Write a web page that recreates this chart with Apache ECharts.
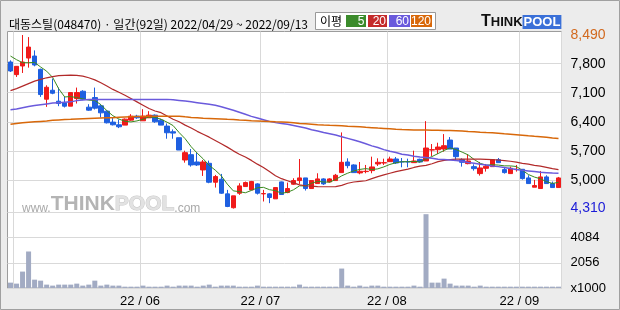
<!DOCTYPE html>
<html><head><meta charset="utf-8">
<script src="https://cdn.jsdelivr.net/npm/echarts@6/dist/echarts.min.js"></script>
<style>html,body{margin:0;padding:0;background:#ececec}#c{width:620px;height:310px}</style>
</head><body><div id="c"></div>
<script>
const dates = [
'2022-04-29',
'2022-05-02','2022-05-03','2022-05-04','2022-05-06','2022-05-09','2022-05-10','2022-05-11','2022-05-12','2022-05-13','2022-05-16','2022-05-17','2022-05-18','2022-05-19','2022-05-20','2022-05-23','2022-05-24','2022-05-25','2022-05-26','2022-05-27','2022-05-30','2022-05-31',
'2022-06-02','2022-06-03','2022-06-07','2022-06-08','2022-06-09','2022-06-10','2022-06-13','2022-06-14','2022-06-15','2022-06-16','2022-06-17','2022-06-20','2022-06-21','2022-06-22','2022-06-23','2022-06-24','2022-06-27','2022-06-28','2022-06-29','2022-06-30',
'2022-07-01','2022-07-04','2022-07-05','2022-07-06','2022-07-07','2022-07-08','2022-07-11','2022-07-12','2022-07-13','2022-07-14','2022-07-15','2022-07-18','2022-07-19','2022-07-20','2022-07-21','2022-07-22','2022-07-25','2022-07-26','2022-07-27','2022-07-28','2022-07-29',
'2022-08-01','2022-08-02','2022-08-03','2022-08-04','2022-08-05','2022-08-08','2022-08-09','2022-08-10','2022-08-11','2022-08-12','2022-08-16','2022-08-17','2022-08-18','2022-08-19','2022-08-22','2022-08-23','2022-08-24','2022-08-25','2022-08-26','2022-08-29','2022-08-30','2022-08-31',
'2022-09-01','2022-09-02','2022-09-05','2022-09-06','2022-09-07','2022-09-08','2022-09-13'];

const openP = [7840,7536,7744,7936,7984,7664,6944,7160,6896,6856,6776,6960,7136,6752,6984,6784,6656,6392,6328,6320,6440,6536,6424,6496,6560,6440,6296,6160,6016,5480,5608,5432,5240,5400,4944,5016,4664,4330,4680,4840,4760,4904,4664,4664,4544,4952,4696,4896,4984,5048,4792,4912,5024,4952,4984,5176,5432,5360,5168,5200,5224,5384,5408,5440,5504,5440,5440,5416,5496,5456,5720,5728,5744,5960,5768,5488,5392,5320,5152,5280,5320,5488,5248,5152,5248,5256,5048,4824,4792,5072,4912,4816];
const closeP = [7624,7736,7840,8200,7768,7056,7232,7088,6840,6776,7104,7104,6944,6680,6728,6616,6376,6328,6280,6464,6536,6496,6536,6560,6400,6320,6136,6128,5720,5656,5360,5360,5432,4944,5080,4680,4360,4616,4856,4936,4960,4680,4672,4576,4816,4648,4792,4984,5048,4792,4984,5024,4904,5024,5112,5424,5344,5176,5208,5208,5312,5424,5416,5504,5408,5432,5432,5456,5432,5768,5728,5792,5824,5744,5560,5424,5456,5272,5288,5328,5488,5416,5176,5280,5256,5032,4912,4864,5072,4912,4816,5048];
const lowP = [7600,7480,7576,7704,7736,7000,6760,7064,6776,6744,6776,6840,6920,6664,6696,6504,6360,6312,6248,6320,6424,6472,6424,6496,6376,6320,5992,5992,5720,5416,5320,5336,5096,4920,4816,4664,4344,4310,4640,4840,4760,4648,4480,4440,4544,4648,4680,4880,4904,4744,4792,4912,4880,4936,4984,5176,5280,5176,5136,5160,5160,5336,5360,5440,5384,5304,5304,5416,5416,5456,5576,5624,5680,5744,5480,5320,5376,5224,5104,5200,5320,5416,5152,5152,5200,5008,4912,4824,4792,4912,4816,4816];
const highP = [7880,7744,8490,8440,8120,7680,7280,7440,7224,7000,7104,7224,7160,6824,7224,6824,6680,6496,6456,6480,6584,6568,6704,6656,6576,6472,6360,6216,6016,5704,5744,5656,5480,5464,5120,5144,4760,4616,4920,4960,4976,4920,4760,4680,4816,4960,4936,5040,5504,5048,4984,5160,5040,5040,5144,6144,5520,5376,5432,5360,5560,5520,5512,5560,5552,5528,5512,5704,5512,6416,5864,5896,6104,6032,5768,5520,5624,5376,5432,5384,5488,5528,5312,5320,5360,5256,5112,5000,5216,5112,4960,5072];
const volume = [460,380,1350,2970,700,620,300,220,300,300,300,380,220,300,620,220,300,220,220,135,135,135,220,135,135,135,220,135,220,220,220,135,220,300,135,220,220,220,135,135,135,220,135,135,135,135,135,135,300,135,135,135,135,135,135,1595,220,135,220,135,220,220,135,135,135,135,135,220,135,5976,460,460,784,380,220,220,220,135,220,135,135,135,135,135,135,135,135,135,135,135,135,135];
const ma5 = [7984,7896,7824,7824,7830,7720,7619,7469,7197,6998,7008,6982,6954,6922,6912,6814,6669,6546,6466,6413,6397,6421,6462,6518,6506,6462,6390,6309,6141,5992,5800,5645,5506,5350,5235,5099,4899,4736,4718,4690,4746,4810,4821,4765,4741,4678,4701,4763,4858,4853,4920,4966,4950,4946,5010,5098,5162,5216,5253,5272,5250,5266,5314,5373,5413,5437,5438,5446,5432,5504,5563,5635,5709,5771,5730,5669,5602,5491,5400,5354,5366,5358,5339,5338,5323,5232,5131,5069,5027,4958,4915,4942];
const ma20 = [7150,7200,7260,7320,7380,7420,7460,7490,7510,7520,7525,7520,7500,7460,7410,7340,7260,7180,7110,7040,6960,6880,6800,6720,6660,6620,6540,6460,6400,6320,6250,6170,6100,6030,5950,5870,5790,5700,5620,5550,5470,5380,5300,5200,5100,5030,4980,4930,4880,4860,4850,4840,4835,4835,4840,4870,4920,4950,4965,4980,5030,5080,5120,5160,5200,5230,5260,5300,5330,5350,5390,5440,5470,5490,5500,5500,5500,5500,5500,5495,5490,5480,5465,5450,5430,5400,5380,5350,5330,5300,5270,5250];
const ma60 = [6690,6710,6740,6770,6790,6810,6830,6850,6860,6870,6880,6910,6925,6935,6940,6940,6940,6940,6940,6940,6940,6940,6940,6940,6940,6940,6940,6930,6915,6900,6880,6860,6840,6820,6800,6760,6720,6680,6630,6580,6530,6490,6450,6410,6380,6360,6340,6310,6280,6250,6210,6180,6140,6110,6080,6040,6000,5960,5920,5870,5820,5780,5730,5690,5660,5620,5600,5570,5550,5540,5520,5500,5490,5480,5465,5450,5420,5400,5380,5360,5336,5320,5300,5275,5250,5230,5215,5200,5185,5175,5165,5160];
const ma120 = [6340,6360,6375,6390,6400,6410,6420,6435,6445,6455,6460,6470,6475,6480,6485,6490,6495,6500,6510,6515,6520,6525,6530,6535,6536,6536,6536,6536,6536,6520,6505,6495,6485,6480,6475,6470,6462,6456,6445,6435,6425,6420,6415,6410,6400,6395,6390,6375,6360,6350,6340,6330,6322,6316,6312,6304,6292,6285,6278,6266,6258,6248,6240,6232,6222,6215,6210,6205,6202,6200,6198,6195,6192,6188,6184,6176,6166,6158,6148,6140,6134,6124,6110,6100,6088,6075,6062,6050,6040,6025,6008,5995];

const priceTicks = [5000,5700,6400,7100,7800];
const priceHigh = 8490, priceLow = 4310;
const monthStarts = ['2022-05-02','2022-06-02','2022-07-01','2022-08-01','2022-09-01'];
const labelMonths = ['2022-06-02','2022-07-01','2022-08-01','2022-09-01'];

const candles = dates.map((d,i)=>[openP[i],closeP[i],lowP[i],highP[i]]);
const numFont = "'Liberation Sans Narrow','Liberation Sans',sans-serif";
const fmt = v => v.toLocaleString('en-US');

const chart = echarts.init(document.getElementById('c'), null, {renderer:'canvas'});
const xCommon = {
  type:'category', data:dates, boundaryGap:true,
  axisLine:{show:false}, axisTick:{show:false},
  splitLine:{show:true, interval:(i,v)=>monthStarts.includes(v), lineStyle:{color:'#d9d9d9',width:1}}
};
chart.setOption({
  animation:false,
  backgroundColor:'#ececec',
  title:{text:'대동스틸(048470) · 일간(92일) 2022/04/29 ~ 2022/09/13', left:4, top:13,
    textStyle:{fontSize:12, fontWeight:'normal', color:'#000', fontFamily:"'Noto Sans CJK KR',sans-serif"}},
  grid:[
    {left:7.5, right:58.5, top:31.5, height:181, show:true, backgroundColor:'#fff', borderColor:'#9c9c9c', borderWidth:1},
    {left:7.5, right:58.5, top:212.5, height:75.5, show:true, backgroundColor:'#fff', borderColor:'#9c9c9c', borderWidth:1}
  ],
  xAxis:[
    Object.assign({gridIndex:0, axisLabel:{show:false}}, xCommon),
    Object.assign({gridIndex:1, axisLabel:{show:true, interval:(i,v)=>labelMonths.includes(v),
      formatter:v=>v.slice(2,4)+' / '+v.slice(5,7), color:'#000', fontSize:13, fontFamily:numFont,
      margin:7, padding:[0,6,0,0]}}, xCommon)
  ],
  yAxis:[
    {type:'value', gridIndex:0, position:'right', min:4215, max:8575,
     axisLine:{show:false}, axisTick:{show:false, customValues:priceTicks},
     splitLine:{show:true, lineStyle:{color:'#d9d9d9'}},
     axisLabel:{customValues:[priceLow].concat(priceTicks,[priceHigh]), margin:9, color:'#000', fontSize:14, fontFamily:numFont,
       formatter:v=> v===priceHigh ? '{h|'+fmt(v)+'}' : (v===priceLow ? '{l|'+fmt(v)+'}' : fmt(v)),
       rich:{h:{color:'#d2691e', fontSize:14, fontFamily:numFont}, l:{color:'#1c1cd8', fontSize:14, fontFamily:numFont}}}},
    {type:'value', gridIndex:1, position:'right', min:28, max:6112, interval:2028,
     axisLine:{show:false}, axisTick:{show:false},
     splitLine:{show:true, lineStyle:{color:'#d9d9d9'}},
     axisLabel:{margin:9, color:'#000', fontSize:13, fontFamily:numFont,
       formatter:v=> v===28 ? 'x1000' : (v>6000 ? '' : String(v))}}
  ],
  series:[
    {type:'candlestick', name:'price', xAxisIndex:0, yAxisIndex:0, data:candles, barWidth:5,
     itemStyle:{color:'#f01a1a', color0:'#1e5fe0', borderColor:'#f01a1a', borderColor0:'#1e5fe0', borderWidth:1}},
    {type:'line', name:'5', data:ma5, xAxisIndex:0, yAxisIndex:0, symbol:'none', lineStyle:{color:'#3a8a1e', width:1}, z:3},
    {type:'line', name:'20', data:ma20, xAxisIndex:0, yAxisIndex:0, symbol:'none', lineStyle:{color:'#b22a2a', width:1.2}, z:3},
    {type:'line', name:'60', data:ma60, xAxisIndex:0, yAxisIndex:0, symbol:'none', lineStyle:{color:'#6a5adc', width:1.5}, z:3},
    {type:'line', name:'120', data:ma120, xAxisIndex:0, yAxisIndex:0, symbol:'none', lineStyle:{color:'#d8680a', width:1.5}, z:3},
    {type:'bar', name:'vol', data:volume, xAxisIndex:1, yAxisIndex:1, barWidth:5, itemStyle:{color:'#a2abc3'}}
  ],
  graphic:[
    {type:'rect', shape:{x:0.5,y:0.5,width:619,height:309}, style:{fill:'none', stroke:'#a0a0a0', lineWidth:1}, z:100},
    {type:'rect', shape:{x:315.5,y:12.5,width:120,height:17}, style:{fill:'#fff', stroke:'#999', lineWidth:1}},
    {type:'text', x:320, y:21, style:{text:'이평', fontSize:12, fill:'#000', verticalAlign:'middle', fontFamily:"'Noto Sans CJK KR',sans-serif"}},
    {type:'rect', shape:{x:346,y:15,width:20,height:12}, style:{fill:'#3b8b2b'}},
    {type:'text', x:364.5, y:21.5, style:{text:'5', fontSize:12, fill:'#fff', align:'right', verticalAlign:'middle', fontFamily:numFont}},
    {type:'rect', shape:{x:368,y:15,width:19,height:12}, style:{fill:'#c42b2b'}},
    {type:'text', x:386, y:21.5, style:{text:'20', fontSize:12, fill:'#fff', align:'right', verticalAlign:'middle', fontFamily:numFont}},
    {type:'rect', shape:{x:389,y:15,width:21,height:12}, style:{fill:'#6a5adc'}},
    {type:'text', x:409, y:21.5, style:{text:'60', fontSize:12, fill:'#fff', align:'right', verticalAlign:'middle', fontFamily:numFont}},
    {type:'rect', shape:{x:411,y:15,width:21,height:12}, style:{fill:'#d8680a'}},
    {type:'text', x:431, y:21.5, style:{text:'120', fontSize:12, fill:'#fff', align:'right', verticalAlign:'middle', fontFamily:numFont}},
    {type:'text', x:481, y:22, style:{text:'{t|T}{h|HINK}{p|POOL}', verticalAlign:'middle',
      rich:{t:{fontSize:16, fontWeight:'bold', fill:'#111', fontFamily:'Liberation Sans'},
            h:{fontSize:13, fontWeight:'bold', fill:'#111', fontFamily:'Liberation Sans'},
            p:{fontSize:13, fontWeight:'bold', fill:'#fff', backgroundColor:'#3a70d8', padding:[1,1,0,1], fontFamily:'Liberation Sans'}}}},
    {type:'text', x:22, y:204, z:1, style:{text:'{w|www.}{t|THINK}{p|POOL}{c|.com}', verticalAlign:'middle',
      rich:{w:{fontSize:12, fill:'#a9a9a9', fontFamily:'Liberation Sans', verticalAlign:'bottom'},
            t:{fontSize:21, fontWeight:'bold', fill:'#b4b4b4', fontFamily:'Liberation Sans'},
            p:{fontSize:21, fontWeight:'bold', fill:'#e2e2e2', stroke:'#c8c8c8', lineWidth:1, fontFamily:'Liberation Sans'},
            c:{fontSize:12, fill:'#a9a9a9', fontFamily:'Liberation Sans', verticalAlign:'bottom'}}}}
  ]
});
</script></body></html>
